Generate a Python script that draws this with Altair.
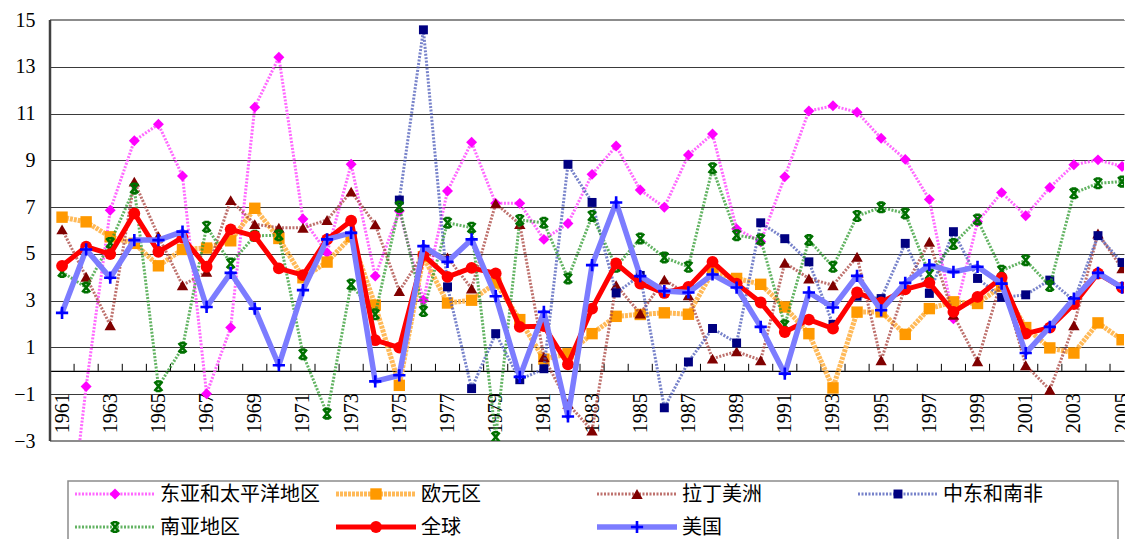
import altair as alt
import pandas as pd

# Annual GDP growth (%), 1961-2005
years = list(range(1961, 2006))

east_asia = [-9.5, -0.67, 6.87, 9.84, 10.54, 8.33, -0.98, 1.85, 11.27, 13.41,
             6.49, 5.05, 8.83, 4.05, 6.83, 3.02, 7.69, 9.77, 7.16, 7.16,
             5.62, 6.30, 8.40, 9.61, 7.73, 6.99, 9.23, 10.13, 6.07, 5.52,
             8.30, 11.11, 11.33, 11.06, 9.94, 9.04, 7.33, 2.23, 6.37, 7.62,
             6.63, 7.84, 8.81, 9.02, 8.74]
euro_area = [6.57, 6.37, 5.73, 5.45, 4.49, 5.19, 5.25, 5.56, 6.95, 5.66,
             3.98, 4.65, 5.73, 2.81, -0.62, 4.88, 2.90, 3.02, 3.76, 2.19,
             0.50, 0.73, 1.59, 2.33, 2.41, 2.48, 2.42, 4.23, 3.95, 3.70,
             2.73, 1.59, -0.73, 2.51, 2.52, 1.56, 2.66, 2.95, 2.88, 3.62,
             1.85, 0.98, 0.76, 2.05, 1.33]
latin_america = [6.05, 4.02, 1.95, 8.09, 5.76, 3.66, 4.23, 7.30, 6.27, 6.12,
                 6.12, 6.45, 7.66, 6.26, 3.41, 5.00, 4.85, 3.52, 7.16, 6.27,
                 0.59, -1.41, -2.55, 3.66, 2.45, 3.90, 3.23, 0.52, 0.83, 0.45,
                 4.62, 3.95, 3.66, 4.88, 0.45, 3.60, 5.52, 2.40, 0.41, 3.90,
                 0.24, -0.81, 1.95, 5.87, 4.38]
mideast_nafrica = [None] * 14 + [
    7.30, 14.58, 3.59, -0.76, 1.59, -0.38, 0.09, 8.83, 7.20, 3.33,
    4.08, -1.58, 0.38, 1.81, 1.19, 6.33, 5.65, 4.66, 1.99, 3.19,
    3.09, 5.45, 3.31, 5.95, 3.95, 3.14, 3.25, 3.88, 3.00, 5.78,
    4.63]
south_asia = [4.23, 3.56, 5.47, 7.80, -0.66, 0.99, 6.16, 4.59, 5.77, 5.80,
              0.71, -1.83, 3.69, 2.42, 7.02, 2.56, 6.33, 6.12, -2.83, 6.45,
              6.33, 3.95, 6.62, 4.45, 5.66, 4.85, 4.45, 8.66, 5.80, 5.62,
              1.95, 5.59, 4.45, 6.62, 6.99, 6.73, 4.13, 5.42, 6.47, 4.28,
              4.73, 3.63, 7.59, 8.02, 8.09]
world = [4.49, 5.31, 4.99, 6.73, 5.09, 5.70, 4.45, 6.05, 5.76, 4.38,
         4.09, 5.62, 6.42, 1.31, 0.99, 4.95, 4.02, 4.40, 4.16, 1.88,
         1.91, 0.28, 2.66, 4.59, 3.73, 3.33, 3.59, 4.66, 3.73, 2.92,
         1.66, 2.19, 1.81, 3.35, 2.92, 3.48, 3.76, 2.52, 3.16, 3.98,
         1.59, 1.85, 2.85, 4.16, 3.56]
usa = [2.48, 5.19, 3.98, 5.59, 5.59, 5.95, 2.73, 4.19, 2.66, 0.24,
       3.45, 5.62, 5.90, -0.45, -0.19, 5.33, 4.66, 5.62, 3.19, -0.26,
       2.52, -1.95, 4.52, 7.20, 4.05, 3.41, 3.35, 4.12, 3.56, 1.88,
       -0.12, 3.35, 2.71, 4.06, 2.59, 3.76, 4.52, 4.23, 4.45, 3.73,
       0.76, 1.88, 3.09, 4.19, 3.56]

series_names = ["东亚和太平洋地区", "欧元区", "拉丁美洲", "中东和南非",
                "南亚地区", "全球", "美国"]
series_values = [east_asia, euro_area, latin_america, mideast_nafrica,
                 south_asia, world, usa]

y_ticks = [-3, -1, 1, 3, 5, 7, 9, 11, 13, 15]
x_labels = years[::2]

# marker paths in the unit box [-1, 1]
X_PATH = "M-0.75,-0.9L0.75,0.9M0.75,-0.9L-0.75,0.9M-0.45,-0.9L0.45,-0.9M-0.45,0.9L0.45,0.9"
PLUS_PATH = "M-1,0L1,0M0,-1L0,1"

styles = [
    dict(line="#FF4DFF", width=3, dash=[2, 1.5], op=0.85, mcolor="#FF00FF", shape="diamond", size=120, filled=True),
    dict(line="#FFB347", width=5, dash=[3, 1], op=0.9, mcolor="#FF9900", shape="square", size=130, filled=True),
    dict(line="#A8423C", width=3, dash=[2, 1.5], op=0.75, mcolor="#800000", shape="triangle-up", size=130, filled=True),
    dict(line="#4A58B8", width=3, dash=[2, 1.5], op=0.75, mcolor="#000080", shape="square", size=80, filled=True),
    dict(line="#2E9A2E", width=3, dash=[2, 1.5], op=0.75, mcolor="#007000", shape=X_PATH, size=110, filled=False),
    dict(line="#FF0000", width=5, dash=None, op=1.0, mcolor="#FF0000", shape="circle", size=140, filled=True),
    dict(line="#7C7CFF", width=5.5, dash=None, op=1.0, mcolor="#0000FF", shape=PLUS_PATH, size=150, filled=False),
]

W, H = 1074, 421
X_DOMAIN = [1960.5, 2005.08]
Y_DOMAIN = [-3, 15]

x_scale = alt.Scale(domain=X_DOMAIN, nice=False, zero=False)
y_scale = alt.Scale(domain=Y_DOMAIN, nice=False, zero=False)

GRID = "#3a3a3a"
FRAME = "#8c8c8c"

x_axis = alt.Axis(values=x_labels, format="d", orient="bottom", offset=-70.2,
                  grid=False, ticks=False, domain=True, domainColor="black",
                  domainWidth=1.2, labelAngle=270, labelAlign="right",
                  labelBaseline="middle", labelPadding=22,
                  labelFont="Liberation Serif", labelFontSize=20,
                  labelColor="black", labelOverlap=False, title=None)
y_axis = alt.Axis(values=y_ticks, grid=True, gridColor=GRID, gridWidth=1,
                  domain=False, ticks=False, labelPadding=15,
                  labelFont="Liberation Serif", labelFontSize=20,
                  labelColor="black", title=None)


def xy(xfield="year", yfield="value"):
    # every layer carries the same axis definitions so they merge into one
    return dict(x=alt.X(f"{xfield}:Q", scale=x_scale, axis=x_axis),
                y=alt.Y(f"{yfield}:Q", scale=y_scale, axis=y_axis))


# small tick marks between categories, pointing up from the zero line
bounds = pd.DataFrame({"year": [y + 0.5 for y in years[:-1]],
                       "value": 0.0, "value2": 0.3})
ticks = alt.Chart(bounds).mark_rule(color="black", strokeWidth=1).encode(
    y2="value2:Q", **xy())

# plot frame (left, top, bottom)
left_df = pd.DataFrame({"year": [X_DOMAIN[0]], "value": [Y_DOMAIN[0]], "value2": [Y_DOMAIN[1]]})
left_edge = alt.Chart(left_df).mark_rule(color="#404040", strokeWidth=2.5).encode(
    y2="value2:Q", **xy())
hz_df = pd.DataFrame({"year": [X_DOMAIN[0]] * 2, "year2": [X_DOMAIN[1]] * 2,
                      "value": Y_DOMAIN})
hz_edges = alt.Chart(hz_df).mark_rule(color=FRAME, strokeWidth=2).encode(
    x2="year2:Q", **xy())

layers = [ticks, hz_edges, left_edge]

for name, vals, st in zip(series_names, series_values, styles):
    df = pd.DataFrame({"year": years, "value": vals}).dropna()
    line_kw = dict(color=st["line"], strokeWidth=st["width"], opacity=st["op"],
                   clip=True, strokeJoin="round")
    if st["dash"]:
        line_kw["strokeDash"] = st["dash"]
    line = alt.Chart(df).mark_line(**line_kw).encode(**xy())
    if st["filled"]:
        pt = alt.Chart(df).mark_point(shape=st["shape"], size=st["size"], filled=True,
                                      color=st["mcolor"], opacity=1, clip=True)
    else:
        pt = alt.Chart(df).mark_point(shape=st["shape"], size=st["size"], filled=False,
                                      color=st["mcolor"], strokeWidth=2.6, opacity=1,
                                      clip=True)
    layers += [line, pt.encode(**xy())]

# legend box below the plot
one = alt.Data(values=[{"k": 0}])
legend_box = alt.Chart(one).mark_rect(fillOpacity=0, stroke=FRAME, strokeWidth=1.5).encode(
    x=alt.value(18), x2=alt.value(1068), y=alt.value(461), y2=alt.value(545))
layers.append(legend_box)

for i, (name, st) in enumerate(zip(series_names, styles)):
    col, row = i % 4, i // 4
    lx = 25 + col * 261
    ly = 474 + row * 33
    rule_kw = dict(color=st["line"], strokeWidth=st["width"], opacity=st["op"])
    if st["dash"]:
        rule_kw["strokeDash"] = st["dash"]
    layers.append(alt.Chart(one).mark_rule(**rule_kw).encode(
        x=alt.value(lx), x2=alt.value(lx + 80), y=alt.value(ly)))
    if st["filled"]:
        mk = alt.Chart(one).mark_point(shape=st["shape"], size=st["size"], filled=True,
                                       color=st["mcolor"], opacity=1)
    else:
        mk = alt.Chart(one).mark_point(shape=st["shape"], size=st["size"], filled=False,
                                       color=st["mcolor"], strokeWidth=2.6, opacity=1)
    layers.append(mk.encode(x=alt.value(lx + 40), y=alt.value(ly)))
    layers.append(alt.Chart(one).mark_text(
        align="left", baseline="middle", font="Noto Sans CJK SC", fontSize=20,
        color="black").encode(x=alt.value(lx + 85), y=alt.value(ly + 1),
                              text=alt.value(name)))

chart = alt.layer(*layers).properties(
    width=W, height=H,
    autosize=alt.AutoSizeParams(type="none"),
    padding={"left": 50, "top": 20, "right": 1, "bottom": 98},
    background="white",
).configure_view(stroke=None)

chart.save("out.html", embed_options={"renderer": "svg", "actions": False})
